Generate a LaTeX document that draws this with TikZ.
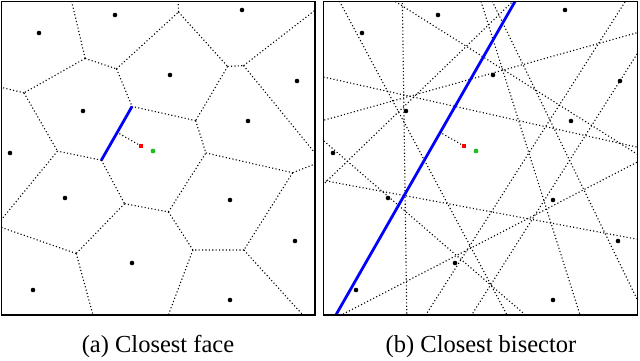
\documentclass[tikz,border=0pt]{standalone}
\usepackage{fontspec}
\setmainfont{Liberation Serif}
\usetikzlibrary{calc}
\definecolor{sitegreen}{RGB}{30,190,30}
\newcommand\defsites[1]{%
 \coordinate (#1s1) at (39,33);
 \coordinate (#1s2) at (115,15);
 \coordinate (#1s3) at (242,10);
 \coordinate (#1s4) at (83,111);
 \coordinate (#1s5) at (170,75);
 \coordinate (#1s6) at (297,81);
 \coordinate (#1s7) at (10,153);
 \coordinate (#1s8) at (248,121);
 \coordinate (#1s9) at (65,198);
 \coordinate (#1s10) at (230,200);
 \coordinate (#1s11) at (295,241);
 \coordinate (#1s12) at (132,263);
 \coordinate (#1s13) at (33,290);
 \coordinate (#1s14) at (230,300);
 \coordinate (#1g) at (153,151);
 \coordinate (#1r) at (141,146);
}
\newcommand\vtx[4]{%
 \coordinate (#1p) at ($(#2)!0.5!(#3)$);
 \coordinate (#1q) at ($(#1p)!10pt!90:(#3)$);
 \coordinate (#1u) at ($(#2)!0.5!(#4)$);
 \coordinate (#1w) at ($(#1u)!10pt!90:(#4)$);
 \coordinate (#1) at (intersection of #1p--#1q and #1u--#1w);
}
\newcommand\bnd[5]{%
 \coordinate (#1p) at ($(#2)!0.5!(#3)$);
 \coordinate (#1q) at ($(#1p)!10pt!90:(#3)$);
 \coordinate (#1) at (intersection of #1p--#1q and #4--#5);
}
\tikzset{
 vedge/.style={line width=1.1pt, dash pattern=on 1.1pt off 2.3pt},
 face/.style={blue, line width=2.8pt},
 frame/.style={line width=1.3pt},
 site/.style={circle, fill=black, inner sep=0pt, minimum size=4.6pt},
 qpt/.style={rectangle, fill=red, inner sep=0pt, minimum size=4.6pt},
 gpt/.style={circle, fill=sitegreen, inner sep=0pt, minimum size=4.8pt},
 captext/.style={anchor=base, font=\fontsize{24.5}{29}\selectfont, inner sep=0pt},
}
\begin{document}
\begin{tikzpicture}[x=1pt,y=-1pt]
\useasboundingbox (0,0) rectangle (640,360);
\fill[white] (0,0) rectangle (640,360);
% ---------------- left panel: Voronoi diagram ----------------
\defsites{}
\coordinate (TL) at (1.2,1.5); \coordinate (TR) at (315,1.5);
\coordinate (BL) at (1.2,315); \coordinate (BR) at (315,315);
\vtx{vA}{s1}{s2}{s4}
\vtx{vB}{s1}{s4}{s7}
\vtx{vC}{s2}{s4}{s5}
\vtx{vD}{s2}{s5}{s3}
\vtx{vLa}{s3}{s5}{s8}
\vtx{vLb}{s3}{s8}{s6}
\vtx{vG}{s5}{s8}{g}
\vtx{vE}{s4}{s5}{g}
\vtx{vF}{s4}{g}{s9}
\vtx{vH}{s4}{s7}{s9}
\vtx{vI}{g}{s9}{s12}
\vtx{vJ}{g}{s12}{s10}
\vtx{vM}{g}{s10}{s8}
\vtx{vK}{s8}{s10}{s11}
\vtx{vO}{s10}{s11}{s14}
\vtx{vN}{s10}{s12}{s14}
\vtx{vP}{s9}{s12}{s13}
\bnd{tA}{s1}{s2}{TL}{TR}
\bnd{lB}{s1}{s7}{TL}{BL}
\bnd{tD}{s2}{s3}{TL}{TR}
\bnd{rLa}{s3}{s6}{TR}{BR}
\bnd{rLb}{s6}{s8}{TR}{BR}
\bnd{rK}{s8}{s11}{TR}{BR}
\bnd{bO}{s11}{s14}{BL}{BR}
\bnd{bN}{s12}{s14}{BL}{BR}
\bnd{bP}{s12}{s13}{BL}{BR}
\bnd{lP}{s9}{s13}{TL}{BL}
\bnd{lH}{s7}{s9}{TL}{BL}
\begin{scope}
\clip (TL) rectangle (BR);
\draw[vedge] (vA) -- (tA);
\draw[vedge] (vA) -- (vB);
\draw[vedge] (vA) -- (vC);
\draw[vedge] (vB) -- (lB);
\draw[vedge] (vB) -- (vH);
\draw[vedge] (vC) -- (vD);
\draw[vedge] (vC) -- (vE);
\draw[vedge] (vD) -- (tD);
\draw[vedge] (vD) -- (vLa);
\draw[vedge] (vLa) -- (vLb);
\draw[vedge] (vLa) -- (vG);
\draw[vedge] (vLb) -- (rLa);
\draw[vedge] (vLb) -- (rLb);
\draw[vedge] (vG) -- (vE);
\draw[vedge] (vG) -- (vM);
\draw[vedge] (vF) -- (vH);
\draw[vedge] (vF) -- (vI);
\draw[vedge] (vH) -- (lH);
\draw[vedge] (vI) -- (vJ);
\draw[vedge] (vI) -- (vP);
\draw[vedge] (vJ) -- (vM);
\draw[vedge] (vJ) -- (vN);
\draw[vedge] (vM) -- (vK);
\draw[vedge] (vK) -- (rK);
\draw[vedge] (vK) -- (vO);
\draw[vedge] (vO) -- (bO);
\draw[vedge] (vO) -- (vN);
\draw[vedge] (vN) -- (bN);
\draw[vedge] (vP) -- (lP);
\draw[vedge] (vP) -- (bP);
\draw[face] (vE) -- (vF);
\coordinate (foot) at ($(vE)!(r)!(vF)$);
\draw[vedge] (r) -- (foot);
\end{scope}
\draw[frame] (TL) rectangle (BR);
\foreach \i in {1,...,14} {\node[site] (a\i) at (s\i) {};}
\node[qpt] (aq) at (r) {};
\node[gpt] (ag) at (g) {};
\node[captext] (capa) at (158,352) {(a) Closest face};
% ---------------- right panel: bisectors ----------------
\begin{scope}[xshift=323pt]
\defsites{R}
\coordinate (RTL) at (0.5,1.5); \coordinate (RBR) at (314.5,315);
\begin{scope}
\clip (RTL) rectangle (RBR);
\foreach \i in {1,2,3,5,6,7,8,9,10,11,12,13,14} {
 \coordinate (Rm\i) at ($(Rg)!0.5!(Rs\i)$);
 \draw[vedge] ($(Rm\i)!420pt!90:(Rs\i)$) -- ($(Rm\i)!420pt!-90:(Rs\i)$);
}
\coordinate (Rm4) at ($(Rg)!0.5!(Rs4)$);
\coordinate (Rn4) at ($(Rm4)!10pt!90:(Rs4)$);
\draw[face] ($(Rm4)!420pt!90:(Rs4)$) -- ($(Rm4)!420pt!-90:(Rs4)$);
\coordinate (Rfoot) at ($(Rm4)!(Rr)!(Rn4)$);
\draw[vedge] (Rr) -- (Rfoot);
\end{scope}
\draw[frame] (RTL) rectangle (RBR);
\foreach \i in {1,...,14} {\node[site] (b\i) at (Rs\i) {};}
\node[qpt] (bq) at (Rr) {};
\node[gpt] (bg) at (Rg) {};
\end{scope}
\node[captext] (capb) at (481,352) {(b) Closest bisector};
\end{tikzpicture}
\end{document}
